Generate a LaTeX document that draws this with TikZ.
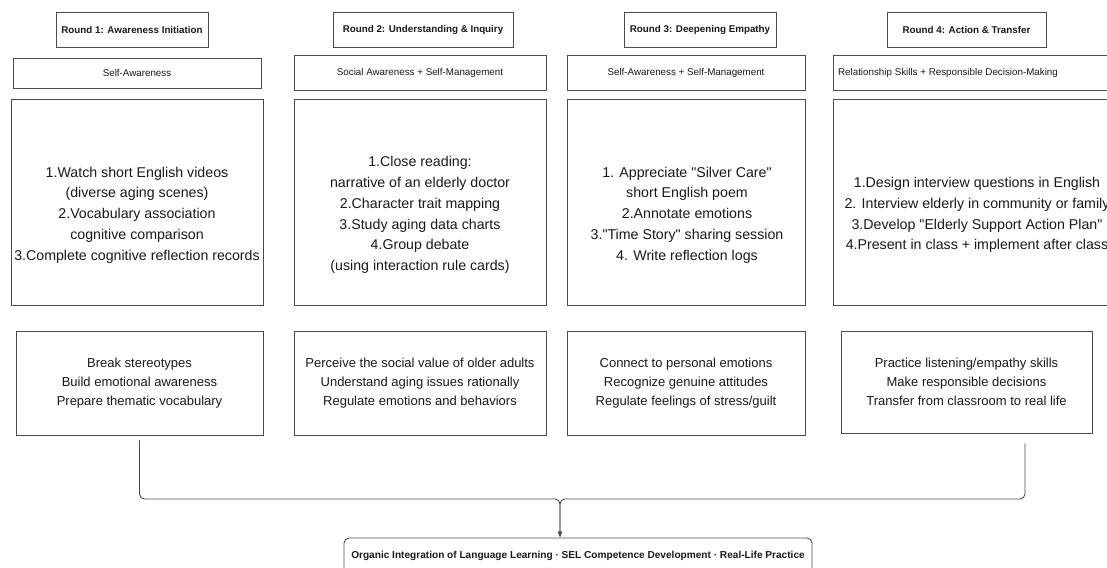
\documentclass[tikz,border=0pt]{standalone}
\usepackage{fontspec}
\setmainfont{Liberation Sans}[Ligatures=TeXOff]
\usetikzlibrary{arrows,arrows.meta,positioning,calc}

\begin{document}
\begin{tikzpicture}[
    x=1pt, y=-1pt,
    box/.style={rectangle, draw=black!70, line width=0.9pt, inner sep=0pt, text=black!90},
    roundbox/.style={box, font=\fontsize{9.8}{12}\selectfont\bfseries},
    skill/.style={box, font=\fontsize{9.8}{12}\selectfont},
    tasktext/.style={align=center, inner sep=0pt, text=black!90, font=\fontsize{14.2}{20.8}\selectfont},
    gain/.style={box, align=center, font=\fontsize{13}{19.2}\selectfont},
    link/.style={draw=black!70, line width=0.9pt, rounded corners=5pt}
]
    \useasboundingbox (0,0) rectangle (1107,567);

    % Round titles
    \foreach \i/\cx/\w/\t in {1/132/152/{Round 1: Awareness Initiation},
                               2/423/180/{Round 2: Understanding \& Inquiry},
                               3/700/152/{Round 3: Deepening Empathy},
                               4/966.5/159/{Round 4: Action \& Transfer}} {
        \node[roundbox, minimum width=\w pt, minimum height=35pt] (r\i) at (\cx,29.5) {\t};
    }

    % SEL competences
    \node[skill, minimum width=248pt, minimum height=30pt] (c1) at (137,73) {Self-Awareness};
    \node[skill, minimum width=252pt, minimum height=35pt] (c2) at (420,72.5) {Social Awareness + Self-Management};
    \node[skill, minimum width=238pt, minimum height=35pt] (c3) at (686,72.5) {Self-Awareness + Self-Management};
    \node[skill, minimum width=297pt, minimum height=35pt] (c4) at (981.5,72.5) {};
    \node[skill, draw=none] (c4txt) at (948,72.5) {Relationship Skills + Responsible Decision-Making};

    % Activity boxes
    \foreach \i/\cx/\w in {1/137/252, 2/420/252, 3/686/238, 4/979/292} {
        \node[box, minimum width=\w pt, minimum height=206pt] (a\i) at (\cx,202) {};
    }
    \node[tasktext] (t1) at (137,215) {1.Watch short English videos\\(diverse aging scenes)\\2.Vocabulary association\\cognitive comparison\\3.Complete cognitive reflection records};
    \node[tasktext] (t2) at (420,215) {1.Close reading:\\narrative of an elderly doctor\\2.Character trait mapping\\3.Study aging data charts\\4.Group debate\\(using interaction rule cards)};
    \node[tasktext] (t3) at (687,215) {1. Appreciate "Silver Care"\\short English poem\\2.Annotate emotions\\3."Time Story" sharing session\\4. Write reflection logs};
    \node[tasktext] (t4) at (977,215) {1.Design interview questions in English\\2. Interview elderly in community or family\\3.Develop "Elderly Support Action Plan"\\4.Present in class + implement after class};

    % Outcomes
    \node[gain, minimum width=247pt, minimum height=104pt] (o1) at (139.5,383) {Break stereotypes\\Build emotional awareness\\Prepare thematic vocabulary};
    \node[gain, minimum width=252pt, minimum height=104pt] (o2) at (420,383) {Perceive the social value of older adults\\Understand aging issues rationally\\Regulate emotions and behaviors};
    \node[gain, minimum width=238pt, minimum height=104pt] (o3) at (686,383) {Connect to personal emotions\\Recognize genuine attitudes\\Regulate feelings of stress/guilt};
    \node[gain, minimum width=251pt, minimum height=102pt] (o4) at (966.5,382) {Practice listening/empathy skills\\Make responsible decisions\\Transfer from classroom to real life};

    % Integration goal
    \node[box, rounded corners=5pt, minimum width=468pt, minimum height=36pt,
          font=\fontsize{10.1}{12}\selectfont\bfseries] (goal) at (578,556)
          {Organic Integration of Language Learning · SEL Competence Development · Real-Life Practice};

    % Brace connector
    \coordinate (join) at (560,499);
    \draw[link,-{Latex[length=6pt,width=5pt]}] ([yshift=-5pt]o1.south) |- (join) -- ([xshift=-18pt]goal.north);
    \draw[link,-{Latex[length=6pt,width=5pt]}] ([xshift=58.5pt,yshift=-10pt]o4.south) |- (join) -- ([xshift=-18pt]goal.north);
\end{tikzpicture}
\end{document}
